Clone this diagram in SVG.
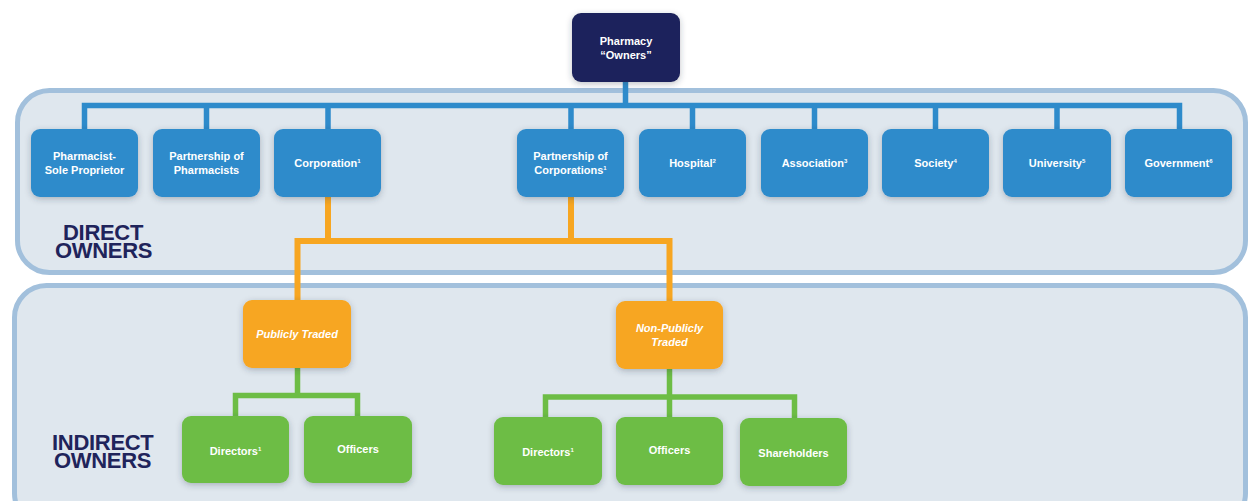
<svg xmlns="http://www.w3.org/2000/svg" width="1248" height="501" viewBox="0 0 1248 501">
<defs>
<filter id="sh" x="-20%" y="-20%" width="140%" height="150%">
<feDropShadow dx="0" dy="2" stdDeviation="3" flood-color="#2a3a4a" flood-opacity="0.3"/>
</filter>
<style>
.panel{fill:#dfe7ee;stroke:#a2c0dc;stroke-width:5}
.blue{fill:#2e8bcb;filter:url(#sh)}
.navy{fill:#1f245b;filter:url(#sh)}
.orange{fill:#f7a621;filter:url(#sh)}
.green{fill:#6dbd45;filter:url(#sh)}
.t{font-family:"Liberation Sans",Arial,sans-serif;font-weight:bold;font-size:11px;fill:#ffffff;text-anchor:middle}
.ti{font-style:italic}
.sup{font-size:6px}
.lab{font-family:"Liberation Sans",Arial,sans-serif;font-weight:bold;font-size:22px;fill:#1f245b;letter-spacing:-0.3px}
.cb{fill:none;stroke:#2e8bcb;stroke-width:5.5}
.co{fill:none;stroke:#f7a621;stroke-width:6}
.cg{fill:none;stroke:#6dbd45;stroke-width:5.5}
</style>
</defs>
<rect class="panel" x="17.5" y="90.5" width="1228" height="182" rx="32"/>
<rect class="panel" x="14.5" y="285.5" width="1231" height="240" rx="32"/>
<text class="lab" x="63" y="240">DIRECT</text>
<text class="lab" x="55" y="258">OWNERS</text>
<text class="lab" x="52" y="450">INDIRECT</text>
<text class="lab" x="54" y="468">OWNERS</text>
<g id="connectors">
<path class="cb" d="M625.5 80 V105.5 M84.5 132 V105.5 H1179.5 V132 M206.5 105.5 V132 M328 105.5 V132 M571 105.5 V132 M692.5 105.5 V132 M814.5 105.5 V132 M935.5 105.5 V132 M1057 105.5 V132"/>
<path class="co" d="M328 195 V241 M571 195 V241 M297.5 302 V241 H669.5 V303"/>
<path class="cg" d="M297.5 366 V395.5 M235.5 418 V395.5 H357.5 V418 M669.5 367 V397 M545.5 419 V397 H794.5 V420 M669.5 397 V419"/>
</g>
<g id="n-owners"><rect class="navy" x="572" y="13" width="108" height="69" rx="9"/><text class="t" x="626" y="45">Pharmacy</text><text class="t" x="626" y="59">“Owners”</text></g>
<g id="n-sole"><rect class="blue" x="31" y="129" width="107" height="68" rx="9"/><text class="t" x="84.5" y="160">Pharmacist-</text><text class="t" x="84.5" y="174">Sole Proprietor</text></g>
<g id="n-pphar"><rect class="blue" x="153" y="129" width="107" height="68" rx="9"/><text class="t" x="206.5" y="160">Partnership of</text><text class="t" x="206.5" y="174">Pharmacists</text></g>
<g id="n-corp"><rect class="blue" x="274" y="129" width="107" height="68" rx="9"/><text class="t" x="327.5" y="167">Corporation<tspan class="sup" dy="-4">1</tspan></text></g>
<g id="n-pcorp"><rect class="blue" x="517" y="129" width="107" height="68" rx="9"/><text class="t" x="570.5" y="160">Partnership of</text><text class="t" x="570.5" y="174">Corporations<tspan class="sup" dy="-4">1</tspan></text></g>
<g id="n-hosp"><rect class="blue" x="639" y="129" width="107" height="68" rx="9"/><text class="t" x="692.5" y="167">Hospital<tspan class="sup" dy="-4">2</tspan></text></g>
<g id="n-assoc"><rect class="blue" x="761" y="129" width="107" height="68" rx="9"/><text class="t" x="814.5" y="167">Association<tspan class="sup" dy="-4">3</tspan></text></g>
<g id="n-soc"><rect class="blue" x="882" y="129" width="107" height="68" rx="9"/><text class="t" x="935.5" y="167">Society<tspan class="sup" dy="-4">4</tspan></text></g>
<g id="n-univ"><rect class="blue" x="1003" y="129" width="108" height="68" rx="9"/><text class="t" x="1057" y="167">University<tspan class="sup" dy="-4">5</tspan></text></g>
<g id="n-gov"><rect class="blue" x="1125" y="129" width="107" height="68" rx="9"/><text class="t" x="1178.5" y="167">Government<tspan class="sup" dy="-4">6</tspan></text></g>
<g id="n-pub"><rect class="orange" x="243" y="300" width="108" height="68" rx="9"/><text class="t ti" x="297" y="338">Publicly Traded</text></g>
<g id="n-nonpub"><rect class="orange" x="616" y="301" width="107" height="68" rx="9"/><text class="t ti" x="669.5" y="332">Non-Publicly</text><text class="t ti" x="669.5" y="346">Traded</text></g>
<g id="n-dir1"><rect class="green" x="182" y="416" width="107" height="67" rx="9"/><text class="t" x="235.5" y="455">Directors<tspan class="sup" dy="-4">1</tspan></text></g>
<g id="n-off1"><rect class="green" x="304" y="416" width="108" height="67" rx="9"/><text class="t" x="358" y="453">Officers</text></g>
<g id="n-dir2"><rect class="green" x="494" y="417" width="108" height="68" rx="9"/><text class="t" x="548" y="456">Directors<tspan class="sup" dy="-4">1</tspan></text></g>
<g id="n-off2"><rect class="green" x="616" y="417" width="107" height="68" rx="9"/><text class="t" x="669.5" y="454">Officers</text></g>
<g id="n-share"><rect class="green" x="740" y="418" width="107" height="68" rx="9"/><text class="t" x="793.5" y="457">Shareholders</text></g>
</svg>
